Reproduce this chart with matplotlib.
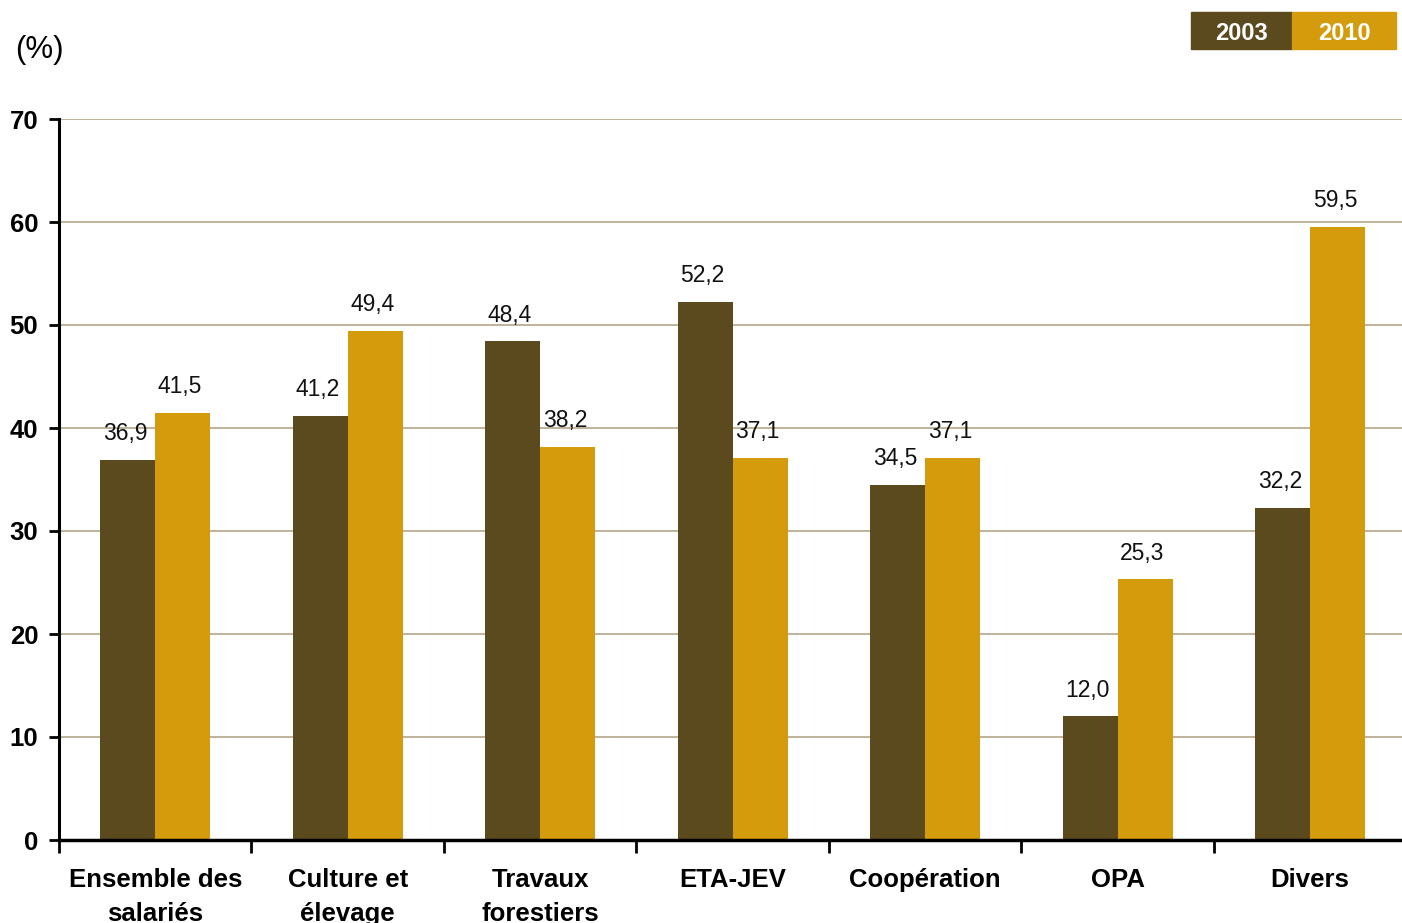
import matplotlib
matplotlib.use("Agg")
import matplotlib.pyplot as plt
from matplotlib.patches import Rectangle
import numpy as np

plt.rcParams['font.family'] = ['Liberation Sans', 'DejaVu Sans']

categories = ["Ensemble des\nsalariés", "Culture et\nélevage", "Travaux\nforestiers",
              "ETA-JEV", "Coopération", "OPA", "Divers"]
v2003 = [36.9, 41.2, 48.4, 52.2, 34.5, 12.0, 32.2]
v2010 = [41.5, 49.4, 38.2, 37.1, 37.1, 25.3, 59.5]
labels2003 = ["36,9", "41,2", "48,4", "52,2", "34,5", "12,0", "32,2"]
labels2010 = ["41,5", "49,4", "38,2", "37,1", "37,1", "25,3", "59,5"]
yticks = [0, 10, 20, 30, 40, 50, 60, 70]

dark = "#5c4a1f"
gold = "#d49b0d"
grid_c = "#b5a58a"

fig = plt.figure(figsize=(14.02, 9.23), dpi=100)
ax = fig.add_axes([59/1402, 83/923, 1 - 59/1402, 721/923])

x = np.arange(len(categories))
w = 0.286
ax.bar(x - w/2, v2003, width=w, color=dark, zorder=2)
ax.bar(x + w/2, v2010, width=w, color=gold, zorder=2)

for xi, v, t in zip(x - w/2, v2003, labels2003):
    ax.annotate(t, (xi, v), xytext=(-2, 19), textcoords="offset points",
                ha="center", va="center", fontsize=16.5, color="#111111", zorder=4)
for xi, v, t in zip(x + w/2, v2010, labels2010):
    ax.annotate(t, (xi, v), xytext=(-2, 19), textcoords="offset points",
                ha="center", va="center", fontsize=16.5, color="#111111", zorder=4)

ax.set_ylim(0, 70)
ax.set_xlim(-0.5, 6.477)
ax.set_yticks(yticks)
ax.set_yticklabels([str(t) for t in yticks], fontsize=18.5, fontweight="bold")
ax.tick_params(axis="y", length=7, width=2, pad=8, direction="out")

ax.set_xticks(x)
ax.set_xticklabels(categories, fontsize=18.5, fontweight="bold", linespacing=1.55, va="top")
ax.tick_params(axis="x", which="major", length=0, pad=20)
ax.set_xticks(np.arange(-0.5, 6.5, 1.0), minor=True)
ax.tick_params(axis="x", which="minor", length=9, width=2, direction="out")

for y in yticks[1:]:
    ax.axhline(y, color=grid_c, linewidth=1.2, zorder=1)

for s in ["top", "right"]:
    ax.spines[s].set_visible(False)
ax.spines["left"].set_linewidth(2.2)
ax.spines["bottom"].set_linewidth(2.5)
ax.spines["left"].set_zorder(3)
ax.spines["bottom"].set_zorder(3)

fig.text(15/1402, 1 - 50/923, "(%)", fontsize=22.5, ha="left", va="center")

# legend boxes
fig.patches.append(Rectangle((1191/1402, 1 - 49/923), 101/1402, 37/923,
                             transform=fig.transFigure, color=dark, zorder=5))
fig.patches.append(Rectangle((1292/1402, 1 - 49/923), 104/1402, 37/923,
                             transform=fig.transFigure, color=gold, zorder=5))
fig.text(1242/1402, 1 - 33/923, "2003", color="white", fontsize=17, fontweight="bold",
         ha="center", va="center", family=["Liberation Sans Narrow", "Liberation Sans"], zorder=6)
fig.text(1344/1402, 1 - 33/923, "2010", color="white", fontsize=17, fontweight="bold",
         ha="center", va="center", family=["Liberation Sans Narrow", "Liberation Sans"], zorder=6)

fig.savefig("out.png", dpi=100)
